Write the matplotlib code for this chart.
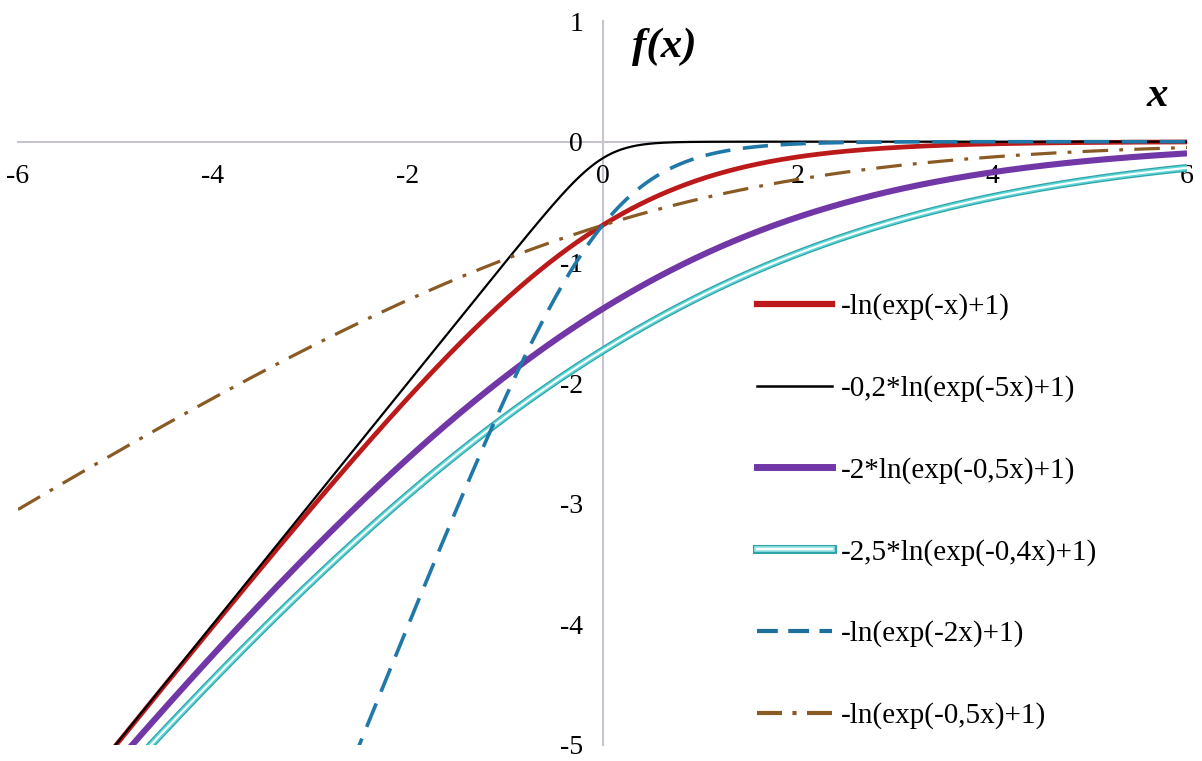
import numpy as np
import matplotlib.pyplot as plt
from matplotlib.lines import Line2D

# Функции вида -a*ln(exp(-b*x)+1), коэффициенты из легенды
labels = ["-ln(exp(-x)+1)", "-0,2*ln(exp(-5x)+1)", "-2*ln(exp(-0,5x)+1)",
          "-2,5*ln(exp(-0,4x)+1)", "-ln(exp(-2x)+1)", "-ln(exp(-0,5x)+1)"]
coef_a = [1, 0.2, 2, 2.5, 1, 1]
coef_b = [1, 5, 0.5, 0.4, 2, 0.5]

x_ticks = [-6, -4, -2, 0, 2, 4, 6]
x_tick_labels = ["-6", "-4", "-2", "0", "2", "4", "6"]
y_ticks = [1, 0, -1, -2, -3, -4, -5]
y_tick_labels = ["1", "0", "-1", "-2", "-3", "-4", "-5"]

x = np.linspace(-6, 6, 1201)


def f(x, a, b):
    return -a * np.log(np.exp(-b * x) + 1)


plt.rcParams['font.family'] = ['Liberation Serif', 'DejaVu Serif']

fig = plt.figure(figsize=(12.02, 7.61), dpi=100)
ax = fig.add_axes([18 / 1202, 16 / 761, 1169 / 1202, 724 / 761])

y = [f(x, a, b) for a, b in zip(coef_a, coef_b)]

ax.plot(x, y[0], color="#BC1A1A", lw=3.4, solid_capstyle="butt", zorder=3)
ax.plot(x, y[1], color="black", lw=1.6, zorder=3)
ax.plot(x, y[2], color="#7237A6", lw=4.4, solid_capstyle="butt", zorder=3)
ax.plot(x, y[3], color="#2FA3A8", lw=5.6, solid_capstyle="butt", zorder=3)
ax.plot(x, y[3], color="#5ED6D6", lw=3.8, solid_capstyle="butt", zorder=3)
ax.plot(x, y[3], color="white", lw=1.5, solid_capstyle="butt", zorder=3)
ax.plot(x, y[4], color="#1F78A8", lw=2.6, dashes=(7, 3.5), zorder=4)
ax.plot(x, y[5], color="#8A5A24", lw=2.3, dashes=(8, 3.5, 1.2, 3.5), zorder=4)

ax.set_xlim(-6, 6)
ax.set_ylim(-5, 1)

# Оси через ноль
for s in ["top", "right"]:
    ax.spines[s].set_visible(False)
for s in ["left", "bottom"]:
    ax.spines[s].set_position(("data", 0))
    ax.spines[s].set_color("#C9C2CF")
    ax.spines[s].set_linewidth(1.5)
    ax.spines[s].set_zorder(1)

ax.set_xticks(x_ticks)
ax.set_xticklabels(x_tick_labels, fontsize=20)
ax.set_yticks(y_ticks)
ax.set_yticklabels(y_tick_labels, fontsize=20)
ax.tick_params(axis="x", length=0, pad=16)
ax.tick_params(axis="y", length=0, pad=14)
ax.patch.set_alpha(0)

ax.text(0.3, 0.79, "f(x)", fontsize=31, fontweight="bold", fontstyle="italic",
        ha="left", va="center")
ax.text(5.7, 0.38, "x", fontsize=31, fontweight="bold", fontstyle="italic",
        ha="center", va="center")

handles = [Line2D([], [], color="#BC1A1A", lw=4.5),
           Line2D([], [], color="black", lw=1.8),
           Line2D([], [], color="#7237A6", lw=5),
           (Line2D([], [], color="#2FA3A8", lw=6.5),
            Line2D([], [], color="#9EE8E8", lw=4),
            Line2D([], [], color="white", lw=1.5)),
           Line2D([], [], color="#1F6F9E", lw=3, dashes=(5, 2.5)),
           Line2D([], [], color="#8A5A24", lw=3, dashes=(6, 2.5, 1, 2.5))]

ax.legend(handles, labels, loc="upper left", bbox_to_anchor=(0.61, 0.66),
          frameon=False, fontsize=21, handlelength=2.55, handletextpad=0.3,
          labelspacing=1.88)

plt.savefig("out.png", dpi=100)
